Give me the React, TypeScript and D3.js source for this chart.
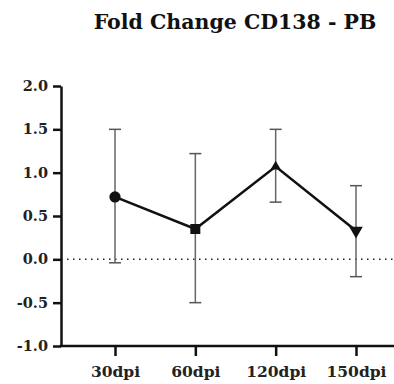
import { useRef, useEffect } from "react"
import * as d3 from "d3"

const categories = ["30dpi", "60dpi", "120dpi", "150dpi"]
const means = [0.72, 0.35, 1.07, 0.33]
const upper = [1.5, 1.22, 1.5, 0.85]
const lower = [-0.04, -0.5, 0.66, -0.2]
const yTicks = [-1.0, -0.5, 0.0, 0.5, 1.0, 1.5, 2.0]
const markers = [d3.symbolCircle, d3.symbolSquare, d3.symbolTriangle, d3.symbolTriangle]

export default function App() {
  const svgRef = useRef<SVGSVGElement | null>(null)

  useEffect(() => {
    if (!svgRef.current) return
    const svg = d3.select(svgRef.current)
    svg.selectAll("*").remove()

    const width = 394
    const font = "'DejaVu Serif', serif"
    const axisX = 61
    const y = d3.scaleLinear().domain([-1, 2]).range([346, 86])
    const x = d3.scalePoint<string>().domain(categories).range([115, 356])

    // Title
    svg
      .append("text")
      .attr("x", 235)
      .attr("y", 29)
      .attr("text-anchor", "middle")
      .attr("font-family", font)
      .attr("font-weight", "bold")
      .attr("font-size", 20.5)
      .attr("fill", "#111")
      .text("Fold Change CD138 - PB")

    // Dotted zero line
    svg
      .append("line")
      .attr("x1", axisX)
      .attr("x2", width)
      .attr("y1", y(0))
      .attr("y2", y(0))
      .attr("stroke", "#222")
      .attr("stroke-width", 1.5)
      .attr("stroke-dasharray", "1.5,4.5")

    // Y axis
    const yAxis = svg
      .append("g")
      .attr("transform", `translate(${axisX},0)`)
      .call(
        d3
          .axisLeft(y)
          .tickValues(yTicks)
          .tickFormat(d3.format(".1f"))
          .tickSize(8)
          .tickSizeOuter(0)
      )
    yAxis.select(".domain").attr("stroke", "#111").attr("stroke-width", 2.5)
    yAxis.selectAll(".tick line").attr("stroke", "#111").attr("stroke-width", 2.5)
    yAxis
      .selectAll(".tick text")
      .attr("font-family", font)
      .attr("font-weight", "bold")
      .attr("font-size", 14.5)
      .attr("fill", "#222")
      .attr("x", -13)
      .text((d: any) => d3.format(".1f")(d).replace("−", "-"))

    // X axis
    svg
      .append("line")
      .attr("x1", axisX - 1.25)
      .attr("x2", width)
      .attr("y1", y(-1))
      .attr("y2", y(-1))
      .attr("stroke", "#111")
      .attr("stroke-width", 2.5)
    const xAxis = svg
      .append("g")
      .attr("transform", `translate(0,${y(-1)})`)
      .call(d3.axisBottom(x).tickSize(10).tickSizeOuter(0))
    xAxis.select(".domain").remove()
    xAxis.selectAll(".tick line").attr("stroke", "#111").attr("stroke-width", 2.5)
    xAxis
      .selectAll(".tick text")
      .attr("font-family", font)
      .attr("font-weight", "bold")
      .attr("font-size", 15.5)
      .attr("fill", "#222")
      .attr("y", 20)

    // Error bars
    const bars = svg.append("g")
    categories.forEach((c, i) => {
      const cx = x(c)!
      bars
        .append("line")
        .attr("x1", cx)
        .attr("x2", cx)
        .attr("y1", y(upper[i]))
        .attr("y2", y(lower[i]))
        .attr("stroke", "#666")
        .attr("stroke-width", 1.5)
      ;[upper[i], lower[i]].forEach((v) => {
        bars
          .append("line")
          .attr("x1", cx - 6)
          .attr("x2", cx + 6)
          .attr("y1", y(v))
          .attr("y2", y(v))
          .attr("stroke", "#555")
          .attr("stroke-width", 1.5)
      })
    })

    // Mean line
    const line = d3
      .line<number>()
      .x((_, i) => x(categories[i])!)
      .y((d) => y(d))
    svg
      .append("path")
      .datum(means)
      .attr("d", line)
      .attr("fill", "none")
      .attr("stroke", "#111")
      .attr("stroke-width", 2.5)

    // Markers
    svg
      .selectAll(".marker")
      .data(means)
      .enter()
      .append("path")
      .attr("class", "marker")
      .attr("d", (_, i) => d3.symbol(markers[i], i === 2 ? 45 : i === 3 ? 80 : 100)())
      .attr("transform", (d, i) => {
        const rot = i === 3 ? " rotate(180)" : ""
        return `translate(${x(categories[i])},${y(d)})${rot}`
      })
      .attr("fill", "#111")
  }, [])

  return (
    <svg
      ref={svgRef}
      width={394}
      height={384}
      style={{ position: "absolute", left: 0, top: 0, background: "white" }}
    ></svg>
  )
}
